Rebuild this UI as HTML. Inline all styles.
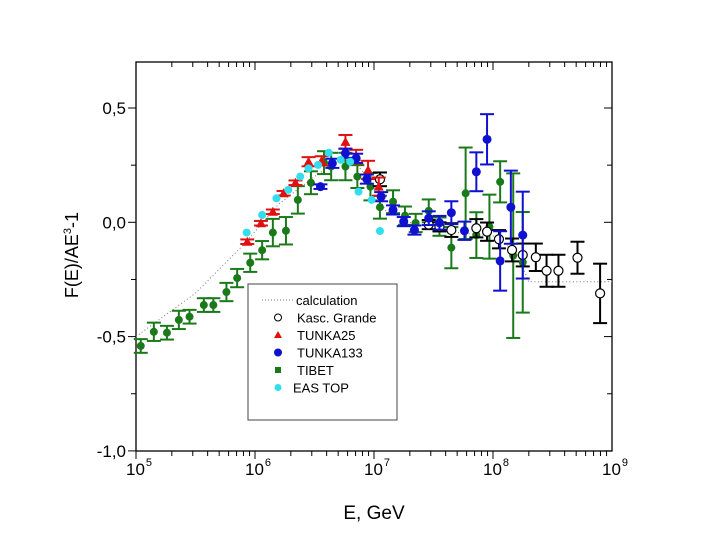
<!DOCTYPE html>
<html><head><meta charset="utf-8"><style>
body{margin:0;background:#fff}
svg{display:block;font-family:"Liberation Sans",Arial,sans-serif}
</style></head><body>
<svg id="chart" width="720" height="540" viewBox="0 0 720 540">
<g id="frame"></g>
<g id="calc"></g>
<g id="marks"></g>
<g id="legend"></g>
<text x="78" y="255" font-size="18" text-anchor="middle" transform="rotate(-90 78 255)">F(E)/AE<tspan font-size="11" dy="-7">3</tspan><tspan dy="7">-1</tspan></text>
<text x="374" y="519" font-size="19" text-anchor="middle">E, GeV</text>
</svg>
<script>
const calcLogE=[5.0,5.5,5.9,6.2,6.5,6.7,6.85,7.0,7.1,7.3,7.6,8.0,8.2,8.3,9.0];
const calcVal=[-0.5,-0.31,-0.1,0.08,0.2,0.27,0.26,0.15,0.05,0.0,-0.04,-0.06,-0.13,-0.26,-0.26];
const tibetLogE=[5.04,5.15,5.26,5.36,5.45,5.57,5.65,5.76,5.85,5.96,6.06,6.15,6.26,6.36,6.47,6.58,6.64,6.76,6.86,6.97,7.05,7.16,7.26,7.35,7.46,7.55,7.65,7.77,7.86,7.97,8.06,8.17,8.25];
const tibetVal=[-0.541,-0.479,-0.483,-0.427,-0.413,-0.362,-0.362,-0.305,-0.244,-0.177,-0.122,-0.045,-0.037,0.098,0.173,0.261,0.244,0.244,0.2,0.156,0.066,0.09,0.029,-0.003,0.05,-0.019,-0.111,0.127,-0.056,-0.019,0.177,-0.146,-0.175];
const tibetErr=[0.03,0.04,0.03,0.04,0.03,0.03,0.03,0.04,0.04,0.04,0.04,0.06,0.06,0.06,0.05,0.05,0.06,0.06,0.05,0.06,0.05,0.05,0.04,0.04,0.05,0.04,0.09,0.2,0.1,0.14,0.09,0.36,0.22];
const t25LogE=[5.935,6.05,6.15,6.24,6.34,6.45,6.56,6.76,6.85,6.95,7.04];
const t25Val=[-0.085,-0.004,0.046,0.127,0.173,0.265,0.269,0.352,0.287,0.229,0.156];
const t25Err=[0.01,0.01,0.01,0.01,0.01,0.02,0.02,0.03,0.03,0.04,0.04];
const t133LogE=[6.55,6.65,6.76,6.85,6.94,7.06,7.16,7.25,7.34,7.46,7.55,7.65,7.76,7.86,7.95,8.06,8.15,8.25];
const t133Val=[0.156,0.258,0.302,0.28,0.189,0.112,0.054,0.003,-0.034,0.018,-0.002,0.042,-0.037,0.221,0.363,-0.169,0.066,-0.056];
const t133Err=[0.01,0.02,0.02,0.02,0.02,0.02,0.02,0.02,0.02,0.03,0.03,0.05,0.04,0.085,0.11,0.13,0.16,0.19];
const kgLogE=[7.05,7.46,7.55,7.65,7.86,7.95,8.05,8.16,8.25,8.36,8.45,8.55,8.71,8.9];
const kgVal=[0.188,-0.01,-0.02,-0.034,-0.026,-0.041,-0.074,-0.121,-0.143,-0.153,-0.212,-0.212,-0.155,-0.311];
const kgErr=[0.03,0.02,0.02,0.03,0.04,0.04,0.04,0.05,0.05,0.06,0.07,0.07,0.07,0.13];
const easLogE=[5.93,6.06,6.18,6.28,6.38,6.45,6.53,6.62,6.72,6.8,6.87,6.98,7.05];
const easVal=[-0.045,0.032,0.105,0.142,0.2,0.236,0.251,0.304,0.273,0.265,0.134,0.098,-0.038];
const yTicks=[0.5,0,-0.5,-1.0];
const yTickLabels=["0,5","0,0","-0,5","-1,0"];
const xDecades=[5,6,7,8,9];

const L=136,R=612,T=62,B=451;
const X=l=>L+(l-5)*(R-L)/4;
const Y=v=>222.3-v*228.6;
const NS="http://www.w3.org/2000/svg";
function mk(tag,attrs,parent){const e=document.createElementNS(NS,tag);for(const k in attrs)e.setAttribute(k,attrs[k]);parent.appendChild(e);return e;}
const frame=document.getElementById('frame');
const r=mk('rect',{x:L,y:T,width:R-L,height:B-T,fill:'none',stroke:'#000','stroke-width':1.3},frame);


for(let k=0;k<=6;k++){
 const v=-1+k*0.25;
 const major=k%2==0;
 mk('line',{x1:L-(major?8:5),x2:L,y1:Y(v),y2:Y(v),stroke:'#000'},frame);
 mk('line',{x1:R,x2:R-(major?8:5),y1:Y(v),y2:Y(v),stroke:'#000'},frame);
}
yTicks.forEach((v,i)=>{
 const t=mk('text',{x:L-10,y:Y(v)+6,'font-size':17,'text-anchor':'end'},frame);
 t.textContent=yTickLabels[i];
 
 
});
for(let d=5;d<9;d++){for(let m=1;m<10;m++){
 const xx=X(d+Math.log10(m));const len=m==1?8:5;
 mk('line',{x1:xx,x2:xx,y1:B,y2:B+len,stroke:'#000'},frame);
 mk('line',{x1:xx,x2:xx,y1:T,y2:T+len,stroke:'#000'},frame);
}}
xDecades.forEach(d=>{
 const t=mk('text',{x:X(d)-10,y:475,'font-size':17},frame);
 
 
 const a=mk('tspan',{},t);a.textContent='10';
 const s=mk('tspan',{'font-size':11,dy:-9,dx:1},t);s.textContent=String(d);
});
const cg=document.getElementById('calc');
mk('polyline',{points:calcLogE.map((l,i)=>X(l)+','+Y(calcVal[i])).join(' '),fill:'none',stroke:'#777','stroke-width':1,'stroke-dasharray':'1 2.5'},cg);
const mg=document.getElementById('marks');
function errbar(l,v,e,col,g){
 const x=X(l);
 mk('line',{x1:x,x2:x,y1:Y(v+e),y2:Y(v-e),stroke:col,'stroke-width':2},g);
 mk('line',{x1:x-7,x2:x+7,y1:Y(v+e),y2:Y(v+e),stroke:col,'stroke-width':2},g);
 mk('line',{x1:x-7,x2:x+7,y1:Y(v-e),y2:Y(v-e),stroke:col,'stroke-width':2},g);
}
const gT=mk('g',{},mg);
const gK=mk('g',{},mg);
const g25=mk('g',{},mg);
const g133=mk('g',{},mg);
const gE=mk('g',{},mg);
tibetLogE.forEach((l,i)=>{errbar(l,tibetVal[i],tibetErr[i],'#1a7a1a',gT);
 const c=mk('circle',{cx:X(l),cy:Y(tibetVal[i]),r:4,fill:'#1a7a1a'},gT);
 });
kgLogE.forEach((l,i)=>{errbar(l,kgVal[i],kgErr[i],'#000',gK);
 const c=mk('circle',{cx:X(l),cy:Y(kgVal[i]),r:4.5,fill:'#fff',stroke:'#000','stroke-width':1.2},gK);
 });
t25LogE.forEach((l,i)=>{errbar(l,t25Val[i],t25Err[i],'#e01010',g25);
 const x=X(l),y=Y(t25Val[i]);
 const p=mk('polygon',{points:`${x},${y-5} ${x-5},${y+4} ${x+5},${y+4}`,fill:'#e01010'},g25);
 });
t133LogE.forEach((l,i)=>{errbar(l,t133Val[i],t133Err[i],'#1010d0',g133);
 const c=mk('circle',{cx:X(l),cy:Y(t133Val[i]),r:4.5,fill:'#1010d0'},g133);
 });
easLogE.forEach((l,i)=>{
 const c=mk('circle',{cx:X(l),cy:Y(easVal[i]),r:4,fill:'#33ddee'},gE);
 });
const lg=document.getElementById('legend');
mk('rect',{x:248,y:284,width:149,height:136,fill:'#fff',stroke:'#444','stroke-width':1},lg);
const items=[['calculation','line'],['Kasc. Grande','open'],['TUNKA25','tri'],['TUNKA133','blue'],['TIBET','sq'],['EAS TOP','cyan']];
items.forEach((it,i)=>{
 const y=300+i*17.5;
 const t=mk('text',{x:i==0?296:(i==5?293:297),y:y+5,'font-size':13},lg);t.textContent=it[0];
 
 const sx=278;
 if(it[1]=='line')mk('line',{x1:262,x2:293,y1:y,y2:y,stroke:'#777','stroke-dasharray':'1 2'},lg);
 if(it[1]=='open')mk('circle',{cx:sx,cy:y,r:3.5,fill:'#fff',stroke:'#000'},lg);
 if(it[1]=='tri')mk('polygon',{points:`${sx},${y-4} ${sx-4},${y+3} ${sx+4},${y+3}`,fill:'#e01010'},lg);
 if(it[1]=='blue')mk('circle',{cx:sx,cy:y,r:4,fill:'#1010d0'},lg);
 if(it[1]=='sq')mk('rect',{x:sx-3,y:y-3,width:6,height:6,fill:'#1a7a1a'},lg);
 if(it[1]=='cyan')mk('circle',{cx:sx,cy:y,r:3.5,fill:'#33ddee'},lg);
});
</script>
</body></html>
